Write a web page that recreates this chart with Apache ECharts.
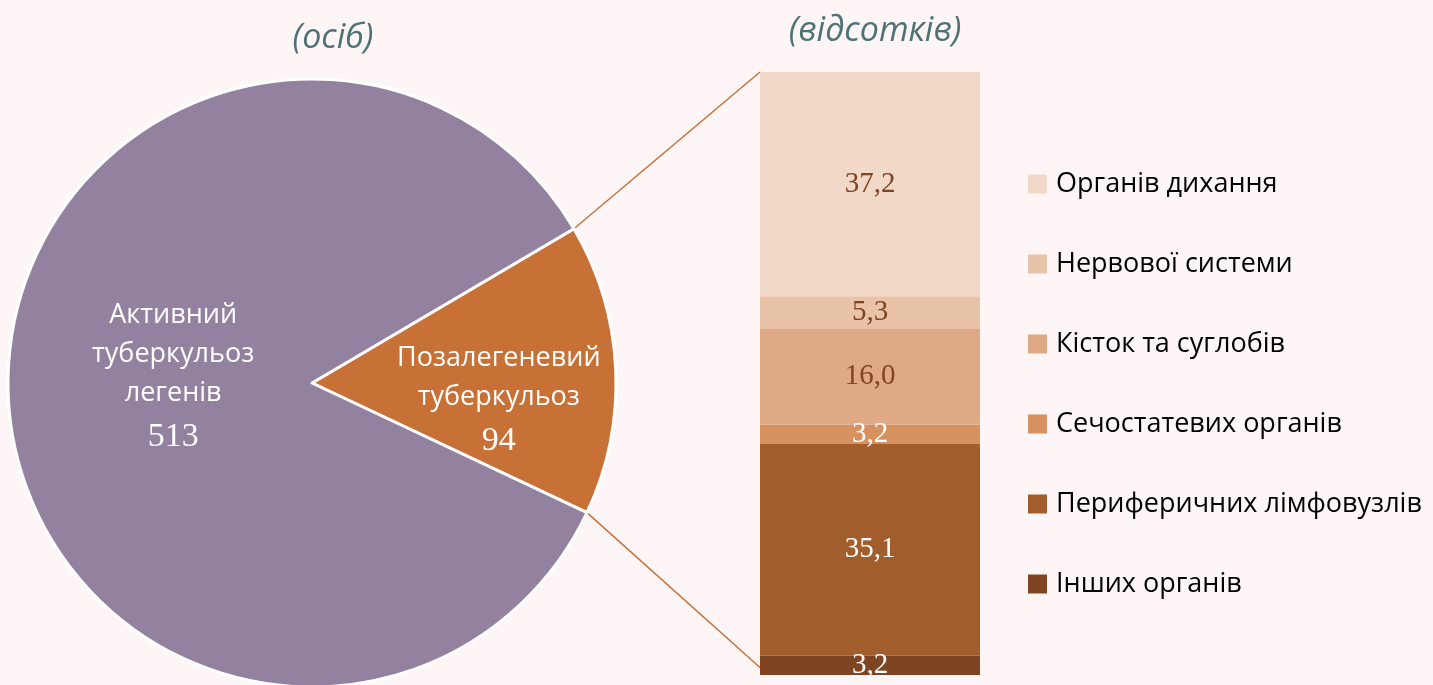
<!DOCTYPE html>
<html>
<head>
<meta charset="utf-8">
<script src="https://cdn.jsdelivr.net/npm/echarts@6/dist/echarts.min.js"></script>
<style>
  html, body { margin: 0; padding: 0; background: #fef6f6; }
  #chart { width: 1433px; height: 685px; }
</style>
</head>
<body>
<div id="chart"></div>
<script>
// Туберкульоз: структура (осіб) та позалегеневий туберкульоз за локалізацією (%)
const pieNames = ['Позалегеневий\nтуберкульоз', 'Активний\nтуберкульоз\nлегенів'];
const pieValues = [94, 513];
const pieColors = ['#c87137', '#93829f'];

// знизу вгору, як у стовпці
const barNames = ['Інших органів', 'Периферичних лімфовузлів', 'Сечостатевих органів',
  'Кісток та суглобів', 'Нервової системи', 'Органів дихання'];
const barValues = [3.2, 35.1, 3.2, 16.0, 5.3, 37.2];
const barColors = ['#7f4421', '#a15d2b', '#d6915f', '#dfa985', '#e9c3a8', '#f2d9c7'];
const barLabelColors = ['#fff', '#fff', '#fff', '#7f4421', '#7f4421', '#7f4421'];

const PIE_CX = 312, PIE_CY = 383, PIE_R = 304, START = 30.5;
const BAR_LEFT = 760, BAR_W = 220, BAR_TOP = 72, BAR_BOTTOM = 10;

const chart = echarts.init(document.getElementById('chart'));

const sans = '"Open Sans", "Noto Sans", sans-serif';
const serif = '"Liberation Serif", "DejaVu Serif", serif';

// зсуви підписів сектора відносно стандартного положення
const labelShift = [[16, 13], [8, -6]];

chart.setOption({
  backgroundColor: '#fef6f6',
  animation: false,
  title: [
    { text: '(осіб)', left: 328, top: 16, textAlign: 'center',
      textStyle: { fontFamily: sans, fontStyle: 'italic', fontWeight: 'normal', fontSize: 34, color: '#4f7375' } },
    { text: '(відсотків)', left: 870, top: 9, textAlign: 'center',
      textStyle: { fontFamily: sans, fontStyle: 'italic', fontWeight: 'normal', fontSize: 34, color: '#4f7375' } }
  ],
  legend: {
    orient: 'vertical', left: 1023, top: 163,
    data: barNames.slice().reverse(),
    icon: 'rect', itemWidth: 19, itemHeight: 19, itemGap: 48,
    textStyle: { fontFamily: sans, fontSize: 27, color: '#000', lineHeight: 32, padding: [0, 0, 0, 4] },
    selectedMode: false
  },
  grid: { left: BAR_LEFT, width: BAR_W, top: BAR_TOP, bottom: BAR_BOTTOM },
  xAxis: { type: 'category', data: [''], show: false },
  yAxis: { type: 'value', min: 0, max: 100, show: false },
  series: [
    {
      type: 'pie', center: [PIE_CX, PIE_CY], radius: PIE_R, startAngle: START,
      clockwise: true, silent: true, z: 3,
      itemStyle: { borderColor: '#fff', borderWidth: 3 },
      label: {
        position: 'inside', color: '#fff', fontFamily: sans, fontSize: 27, lineHeight: 39,
        formatter: p => p.name + '\n{n|' + p.value + '}',
        rich: { n: { fontFamily: serif, fontSize: 34, lineHeight: 48, color: '#fff' } }
      },
      labelLayout: p => ({ dx: labelShift[p.dataIndex][0], dy: labelShift[p.dataIndex][1] }),
      data: pieNames.map((n, i) => ({ name: n, value: pieValues[i], itemStyle: { color: pieColors[i] } }))
    }
  ].concat(barNames.map((n, i) => ({
    type: 'bar', name: n, stack: 'loc', barWidth: '100%', z: 3,
    data: [barValues[i]],
    itemStyle: { color: barColors[i] },
    label: {
      show: true, position: 'inside', color: barLabelColors[i],
      fontFamily: serif, fontSize: 29,
      formatter: p => p.value.toFixed(1).replace('.', ',')
    }
  })))
});

// з'єднувальні лінії від сектора до стовпця
const total = pieValues.reduce((a, b) => a + b, 0);
const a1 = START * Math.PI / 180;
const a2 = (START - 360 * pieValues[0] / total) * Math.PI / 180;
const pTop = chart.convertToPixel({ xAxisIndex: 0, yAxisIndex: 0 }, [0, 100]);
const pBot = chart.convertToPixel({ xAxisIndex: 0, yAxisIndex: 0 }, [0, 0]);
const lineStyle = { stroke: '#c87137', lineWidth: 1.5 };
chart.setOption({
  graphic: [
    { type: 'line', z: 1, silent: true, style: lineStyle,
      shape: { x1: PIE_CX + PIE_R * Math.cos(a1), y1: PIE_CY - PIE_R * Math.sin(a1), x2: pTop[0] - BAR_W / 2, y2: pTop[1] } },
    { type: 'line', z: 1, silent: true, style: lineStyle,
      shape: { x1: PIE_CX + PIE_R * Math.cos(a2), y1: PIE_CY - PIE_R * Math.sin(a2), x2: pBot[0] - BAR_W / 2 + 5, y2: pBot[1] - 3 } }
  ]
});
</script>
</body>
</html>
